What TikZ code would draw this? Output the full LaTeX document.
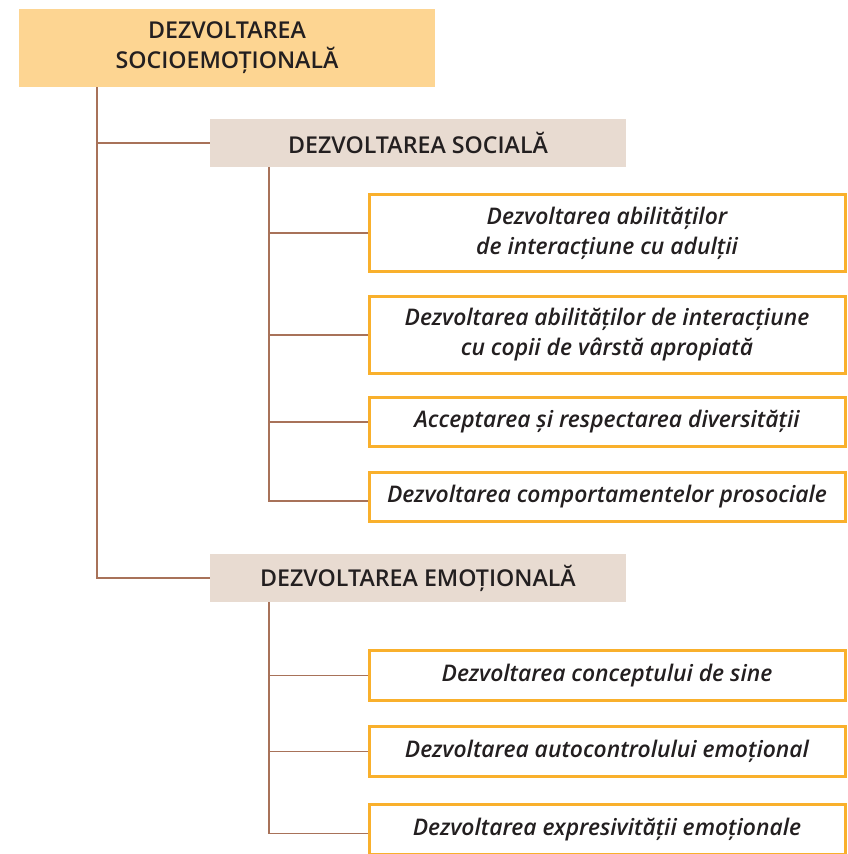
\documentclass[tikz,border=0pt]{standalone}
\usepackage{fontspec}
\setmainfont{Open Sans}[BoldFont={Open Sans Semibold}, BoldItalicFont={Open Sans Semibold Italic}]
\usepackage{tikz}
\usetikzlibrary{calc, shapes}

\definecolor{topfill}{HTML}{FDD592}
\definecolor{catfill}{HTML}{E8DBD1}
\definecolor{leafdraw}{HTML}{F9B02C}
\definecolor{linkbrown}{HTML}{A87259}
\definecolor{inkgray}{HTML}{231F20}

\tikzset{
	rootbox/.style={rectangle, fill=topfill, minimum width=416pt, minimum height=78pt, align=center, text=inkgray, font=\fontsize{23.2}{30}\selectfont\bfseries},
	catbox/.style={rectangle, fill=catfill, minimum width=416pt, minimum height=48pt, align=center, text=inkgray, font=\fontsize{23.2}{27}\selectfont\bfseries},
	leafbox/.style={rectangle, draw=leafdraw, line width=3pt, fill=white, minimum width=476pt, align=center, text=inkgray, font=\fontsize{22.9}{30}\selectfont\bfseries\itshape},
	link/.style={draw=linkbrown, line width=1.6pt},
}

\begin{document}
\begin{tikzpicture}[x=1pt, y=-1pt]
	\useasboundingbox [fill=white] (0, 0) rectangle (847, 854);

	\node (root) at (227, 48) [rootbox] {DEZVOLTAREA\\SOCIOEMOȚIONALĂ};

	\node (soc) at (418, 143) [catbox] {DEZVOLTAREA SOCIALĂ};
	\node (emo) at (418, 578) [catbox] {DEZVOLTAREA EMOȚIONALĂ};

	\node (sb1) at (607, 233) [leafbox, minimum height=77pt] {Dezvoltarea abilităților\\de interacțiune cu adulții};
	\node (sb2) at (607, 335) [leafbox, minimum height=77pt] {Dezvoltarea abilităților de interacțiune\\cu copii de vârstă apropiată};
	\node (sb3) at (607, 422) [leafbox, minimum height=49pt] {Acceptarea și respectarea diversității};
	\node (sb4) at (607, 497) [leafbox, minimum height=49pt] {Dezvoltarea comportamentelor prosociale};

	\node (eb1) at (607, 675.5) [leafbox, minimum height=50pt] {Dezvoltarea conceptului de sine};
	\node (eb2) at (607, 751.5) [leafbox, minimum height=50pt] {Dezvoltarea autocontrolului emoțional};
	\node (eb3) at (607, 829.5) [leafbox, minimum height=50pt] {Dezvoltarea expresivității emoționale};

	\coordinate (tx0) at (97, 0);
	\coordinate (tx1) at (269, 0);

	\draw [link] (root.south -| tx0) |- (soc.west);
	\draw [link] (root.south -| tx0) |- (emo.west);

	\draw [link] (soc.south -| tx1) |- (sb1.west);
	\draw [link] (soc.south -| tx1) |- (sb2.west);
	\draw [link] (soc.south -| tx1) |- (sb3.west);
	\draw [link] (soc.south -| tx1) |- ($(sb4.west) + (0, 4)$);

	\draw [link] (emo.south -| tx1) |- (eb1.west);
	\draw [link] (emo.south -| tx1) |- (eb2.west);
	\draw [link] (emo.south -| tx1) |- ($(eb3.west) + (0, 4)$);
\end{tikzpicture}
\end{document}
